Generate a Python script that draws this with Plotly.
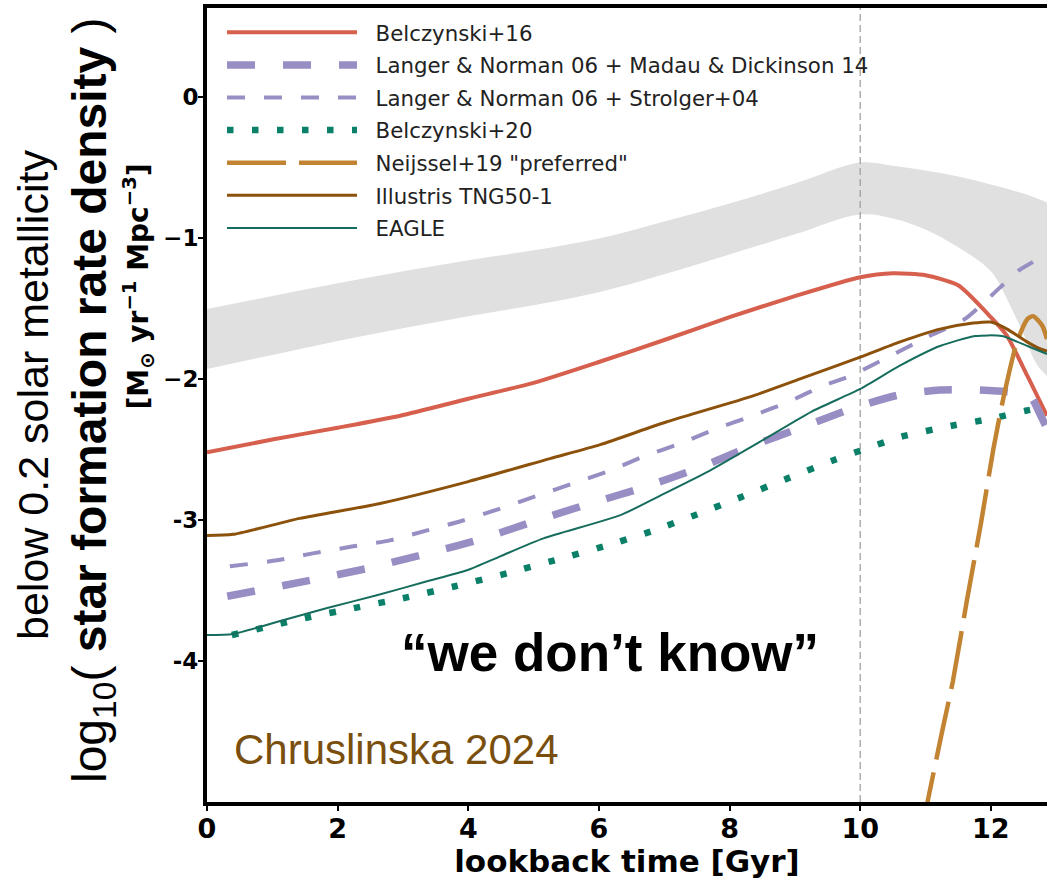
import plotly.graph_objects as go

# ---------------- data ----------------
band_t = [0, 1, 2, 3, 4, 5, 6, 7, 8, 9, 10, 10.5, 11, 11.5, 12, 12.3, 12.5, 12.7, 12.86]
band_lo = [-1.929, -1.830, -1.731, -1.640, -1.555, -1.477, -1.385, -1.258, -1.117, -0.975,
           -0.834, -0.862, -0.940, -1.067, -1.237, -1.484, -1.682, -1.894, -1.979]
band_up_t = [0, 1, 2, 3, 4, 5, 6, 7, 8, 9, 10, 10.5, 11, 11.5, 12, 12.5, 12.86]
band_up = [-1.505, -1.413, -1.322, -1.237, -1.159, -1.088, -1.004, -0.883, -0.756, -0.615,
           -0.466, -0.488, -0.523, -0.565, -0.622, -0.686, -0.749]

b16_t = [0, 1, 2, 2.96, 4, 5, 6, 7, 8, 9, 10, 10.5, 11, 11.5, 12, 12.25, 12.56, 12.86]
b16_v = [-2.52, -2.43, -2.346, -2.261, -2.141, -2.028, -1.880, -1.724, -1.562, -1.413,
         -1.279, -1.251, -1.265, -1.336, -1.562, -1.696, -1.979, -2.261]

lnmd_t = [0.31, 1.58, 2.46, 3.26, 4.13, 5.0, 5.82, 6.63, 7.5, 8.31, 9.13, 9.95, 10.6,
          11.22, 11.76, 12.25, 12.6, 12.75, 12.86]
lnmd_v = [-3.541, -3.428, -3.343, -3.251, -3.145, -3.011, -2.890, -2.777, -2.636, -2.481,
          -2.339, -2.198, -2.113, -2.078, -2.078, -2.092, -2.12, -2.247, -2.353]

lns_t = [0.35, 1.07, 1.62, 2.24, 2.8, 3.37, 3.92, 4.49, 5.06, 5.6, 6.17, 6.68, 7.24, 7.8,
         8.35, 8.9, 9.43, 9.85, 10.46, 11.03, 11.6, 12.0, 12.43, 12.86]
lns_v = [-3.329, -3.286, -3.237, -3.187, -3.145, -3.074, -3.004, -2.919, -2.827, -2.742,
         -2.650, -2.551, -2.459, -2.353, -2.261, -2.163, -2.049, -1.979, -1.837, -1.703,
         -1.576, -1.413, -1.230, -1.117]

b20_t = [0.38, 1.5, 2.25, 3.0, 3.8, 4.6, 5.32, 6.08, 6.8, 7.5, 8.2, 8.88, 9.58, 10.0,
         10.63, 11.4, 12.0, 12.53, 12.86]
b20_v = [-3.816, -3.696, -3.625, -3.555, -3.470, -3.378, -3.286, -3.187, -3.081, -2.961,
         -2.834, -2.707, -2.579, -2.509, -2.410, -2.332, -2.283, -2.226, -2.198]

nei_t = [10.95, 11.04, 11.26, 11.42, 11.64, 11.85, 12.04, 12.19, 12.40, 12.56, 12.65, 12.79, 12.86]
nei_v = [-5.2, -4.98, -4.488, -4.141, -3.555, -3.02, -2.495, -2.141, -1.738, -1.576,
         -1.555, -1.625, -1.717]

tng_t = [0, 0.4, 1.42, 2.65, 4.0, 5.25, 6.02, 7.04, 8.36, 9.08, 10.0, 10.6, 11.22, 11.73,
         12.0, 12.25, 12.56, 12.76, 12.86]
tng_v = [-3.110, -3.102, -2.989, -2.883, -2.728, -2.565, -2.466, -2.304, -2.120, -2.0,
         -1.845, -1.739, -1.647, -1.604, -1.597, -1.647, -1.739, -1.788, -1.802]

eagle_t = [0, 0.4, 1.12, 1.84, 2.6, 3.37, 3.98, 4.49, 5.15, 6.32, 6.94, 7.7, 8.47, 9.25,
           10.0, 10.6, 11.22, 11.76, 12.17, 12.56, 12.86]
eagle_v = [-3.816, -3.809, -3.717, -3.625, -3.534, -3.435, -3.357, -3.258, -3.131, -2.968,
           -2.827, -2.650, -2.445, -2.233, -2.071, -1.908, -1.767, -1.696, -1.696, -1.767,
           -1.823]

x_ticks = [0, 2, 4, 6, 8, 10, 12]
y_ticks = [0, -1, -2, -3, -4]
y_ticktext = ["0", "\u22121", "\u22122", "-3", "-4"]

# ---------------- figure ----------------
fig = go.Figure()

fig.add_trace(go.Scatter(x=band_t, y=band_lo, mode="lines",
                         line=dict(width=0, shape="spline", smoothing=1.0),
                         showlegend=False, hoverinfo="skip"))
fig.add_trace(go.Scatter(x=band_up_t, y=band_up, mode="lines",
                         line=dict(width=0, shape="spline", smoothing=1.0),
                         fill="tonexty", fillcolor="#e0e0e0", showlegend=False,
                         hoverinfo="skip"))
fig.add_trace(go.Scatter(x=[10, 10], y=[-5, 0.63], mode="lines",
                         line=dict(color="#9a9a9a", width=1.2, dash="7px,4px"),
                         showlegend=False, hoverinfo="skip"))

series = [
    ("Belczynski+16", b16_t, b16_v, "#d6604d", 4, "solid"),
    ("Langer & Norman 06 + Madau & Dickinson 14", lnmd_t, lnmd_v, "#998ec3", 7.5, "28px,28px"),
    ("Langer & Norman 06 + Strolger+04", lns_t, lns_v, "#998ec3", 4, "18px,19px"),
    ("Belczynski+20", b20_t, b20_v, "#0b8068", 6.5, "6.5px,18.5px"),
    ("Neijssel+19 \"preferred\"", nei_t, nei_v, "#c28332", 4.5, "59px,13px"),
    ("Illustris TNG50-1", tng_t, tng_v, "#8c510a", 3, "solid"),
    ("EAGLE", eagle_t, eagle_v, "#176d5d", 2, "solid"),
]
for i, (name, xs, ys, col, w, dash) in enumerate(series):
    fig.add_trace(go.Scatter(x=xs, y=ys, mode="lines", name="\u00a0\u00a0" + name,
                             legendgroup=f"g{i}",
                             line=dict(color=col, width=w, dash=dash, shape="spline",
                                       smoothing=0.6)))

W, H = 1047, 879
L, R, T, B = 207, 0, 8, 77
pw = W - L - R
ph = H - T - B

def px(xp):
    return (xp - L) / pw

def py(yp):
    return (H - B - yp) / ph

fig.update_layout(
    width=W, height=H,
    margin=dict(l=L, r=R, t=T, b=B),
    paper_bgcolor="white", plot_bgcolor="white",
    showlegend=True,
    legend=dict(x=px(222), y=py(12), xanchor="left", yanchor="top",
                bgcolor="rgba(0,0,0,0)", borderwidth=0, itemwidth=130,
                tracegroupgap=1.9,
                font=dict(family="DejaVu Sans", size=21.3, color="#222222")),
    xaxis=dict(range=[0, 12.86], tickvals=x_ticks, ticks="outside", ticklen=5,
               tickwidth=1.5, tickcolor="black", showline=True, linewidth=4,
               linecolor="black", mirror=True, showgrid=False, zeroline=False,
               ticklabelstandoff=-5,
               tickfont=dict(family="DejaVu Sans", size=27, color="black", weight="bold"),
               title=dict(text="lookback time [Gyr]", standoff=2,
                          font=dict(family="DejaVu Sans", size=31, color="black",
                                    weight="bold"))),
    yaxis=dict(range=[-5, 0.63], tickvals=y_ticks, ticktext=y_ticktext, ticks="outside",
               ticklen=5, tickwidth=1.5, tickcolor="black", showline=True, linewidth=4,
               linecolor="black", mirror=False, showgrid=False, zeroline=False,
               ticklabelstandoff=-5,
               tickfont=dict(family="DejaVu Sans", size=23, color="black", weight="bold")),
)

fig.add_annotation(text="below 0.2 solar metallicity", xref="paper", yref="paper",
                   x=px(7), y=py(395), textangle=-90, showarrow=False,
                   font=dict(family="Liberation Sans", size=43, color="black"))
fig.add_annotation(text="log<sub>10</sub>( <b>star formation rate density</b> )",
                   xref="paper", yref="paper", x=px(61), y=py(400), textangle=-90,
                   showarrow=False,
                   font=dict(family="Liberation Sans", size=48, color="black"))
fig.add_annotation(text="<b>[M<sub>\u2299</sub>\u00a0yr<sup>\u22121</sup>\u00a0Mpc<sup>\u22123</sup>]</b>",
                   xref="paper", yref="paper", x=px(116), y=py(287), textangle=-90,
                   showarrow=False,
                   font=dict(family="DejaVu Sans", size=28, color="black"))
fig.add_annotation(text="<b>\u201cwe don\u2019t know\u201d</b>", x=6.17, y=-3.943,
                   xref="x", yref="y", showarrow=False,
                   font=dict(family="Liberation Sans", size=53, color="black"))
fig.add_annotation(text="Chruslinska 2024", x=0.38, y=-4.63, xref="x", yref="y",
                   xanchor="left", showarrow=False,
                   font=dict(family="Liberation Sans", size=42, color="#7a4f0e"))

fig.write_html("out.html")
